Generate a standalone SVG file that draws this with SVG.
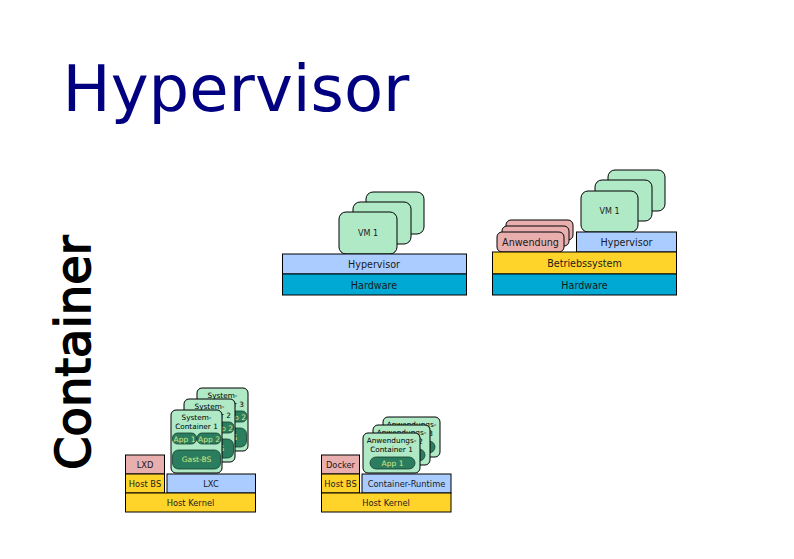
<svg xmlns="http://www.w3.org/2000/svg" width="794" height="559" viewBox="0 0 794 559">
<style>
text{font-family:"DejaVu Sans","Liberation Sans",sans-serif;text-anchor:middle;fill:#1a1a1a}
.b{stroke:#000;stroke-width:1}
.hw{fill:#00a8d4}
.hv{fill:#aaccff}
.os{fill:#ffd42a}
.pk{fill:#e9afaf}
.vm{fill:#afe9c6}
.app{fill:#2b7d60;stroke:#15402f;stroke-width:0.8}
.apt{fill:#dbe87f;font-size:7.5px}
.l{font-size:9.6px}
.s{font-size:8.3px}
.c{font-size:7.3px;fill:#000}
</style>
<rect width="794" height="559" fill="#fff"/>
<text x="236" y="111" style="font-size:64px;fill:#000080">Hypervisor</text>
<text transform="translate(90,470) rotate(-90)" x="0" y="0" style="font-size:48px;fill:#000;stroke:#000;stroke-width:1.6;text-anchor:start">Container</text>

<g id="hyp1">
<rect class="b vm" x="366" y="192" width="58" height="42" rx="7"/>
<rect class="b vm" x="353" y="202" width="58" height="42" rx="7"/>
<rect class="b vm" x="339" y="212" width="58" height="42" rx="7"/>
<text x="368" y="236" style="font-size:8px">VM 1</text>
<rect class="b hv" x="282.5" y="254" width="184" height="20"/>
<text class="l" x="374" y="268">Hypervisor</text>
<rect class="b hw" x="282.5" y="274" width="184" height="21"/>
<text class="l" x="374" y="288.5">Hardware</text>
</g>

<g id="hyp2">
<rect class="b vm" x="608" y="170" width="57" height="41" rx="7"/>
<rect class="b vm" x="595" y="180" width="57" height="41" rx="7"/>
<rect class="b vm" x="581" y="191" width="57" height="41" rx="7"/>
<text x="609.5" y="214" style="font-size:8px">VM 1</text>
<rect class="b pk" x="506" y="220" width="67" height="20" rx="5"/>
<rect class="b pk" x="502" y="226" width="67" height="20" rx="5"/>
<rect class="b pk" x="497" y="232" width="67" height="20" rx="5"/>
<text class="l" x="530.5" y="245.5">Anwendung</text>
<rect class="b hv" x="576.5" y="232" width="100" height="20"/>
<text class="l" x="626.5" y="246">Hypervisor</text>
<rect class="b os" x="492.5" y="252" width="184" height="22"/>
<text class="l" x="584.5" y="267">Betriebssystem</text>
<rect class="b hw" x="492.5" y="274" width="184" height="21"/>
<text class="l" x="584.5" y="288.5">Hardware</text>
</g>

<g id="lxc">
<g id="sc3">
<rect class="b vm" x="197" y="388" width="51" height="63" rx="5"/>
<text class="c" x="222.5" y="398">System-</text>
<text class="c" x="222.5" y="407">Container 3</text>
<rect class="app" x="198.5" y="411" width="24" height="11" rx="5"/>
<text class="apt" x="210.5" y="419.5">App 1</text>
<rect class="app" x="223" y="411" width="24" height="11" rx="5"/>
<text class="apt" x="235" y="419.5">App 2</text>
<rect class="app" x="198.5" y="428" width="48" height="19" rx="6"/>
<text class="apt" x="222.5" y="440">Gast-BS</text>
</g>
<g id="sc2">
<rect class="b vm" x="184" y="399" width="51" height="63" rx="5"/>
<text class="c" x="209.5" y="409">System-</text>
<text class="c" x="209.5" y="418">Container 2</text>
<rect class="app" x="185.5" y="422" width="24" height="11" rx="5"/>
<text class="apt" x="197.5" y="430.5">App 1</text>
<rect class="app" x="210" y="422" width="24" height="11" rx="5"/>
<text class="apt" x="222" y="430.5">App 2</text>
<rect class="app" x="185.5" y="439" width="48" height="19" rx="6"/>
<text class="apt" x="209.5" y="451">Gast-BS</text>
</g>
<g id="sc1">
<rect class="b vm" x="171" y="410" width="51" height="63" rx="5"/>
<text class="c" x="196.5" y="420">System-</text>
<text class="c" x="196.5" y="429">Container 1</text>
<rect class="app" x="172.5" y="433" width="24" height="11" rx="5"/>
<text class="apt" x="184.5" y="441.5">App 1</text>
<rect class="app" x="197" y="433" width="24" height="11" rx="5"/>
<text class="apt" x="209" y="441.5">App 2</text>
<rect class="app" x="172.5" y="450" width="48" height="19" rx="6"/>
<text class="apt" x="196.5" y="462">Gast-BS</text>
</g>
<rect class="b pk" x="125.5" y="455" width="39" height="19"/>
<text class="s" x="145" y="468">LXD</text>
<rect class="b os" x="125.5" y="474" width="39" height="19"/>
<text class="s" x="145" y="487">Host BS</text>
<rect class="b hv" x="167" y="474" width="88.5" height="19"/>
<text class="s" x="211" y="487">LXC</text>
<rect class="b os" x="125.5" y="493" width="130" height="19"/>
<text class="s" x="190.5" y="506">Host Kernel</text>
</g>

<g id="docker">
<g id="ac3">
<rect class="b vm" x="383" y="417" width="57" height="40" rx="5"/>
<text class="c" x="411.5" y="427">Anwendungs-</text>
<text class="c" x="411.5" y="436">Container 3</text>
<rect class="app" x="390" y="441" width="45" height="12" rx="6"/>
<text class="apt" x="412.5" y="450">App 1</text>
</g>
<g id="ac2">
<rect class="b vm" x="373" y="425" width="57" height="40" rx="5"/>
<text class="c" x="401.5" y="435">Anwendungs-</text>
<text class="c" x="401.5" y="444">Container 2</text>
<rect class="app" x="380" y="449" width="45" height="12" rx="6"/>
<text class="apt" x="402.5" y="458">App 1</text>
</g>
<g id="ac1">
<rect class="b vm" x="363" y="433" width="57" height="40" rx="5"/>
<text class="c" x="391.5" y="443">Anwendungs-</text>
<text class="c" x="391.5" y="452">Container 1</text>
<rect class="app" x="370" y="457" width="45" height="12" rx="6"/>
<text class="apt" x="392.5" y="466">App 1</text>
</g>
<rect class="b pk" x="321.5" y="455" width="38" height="19"/>
<text class="s" x="340.5" y="468">Docker</text>
<rect class="b os" x="321.5" y="474" width="38" height="19"/>
<text class="s" x="340.5" y="487">Host BS</text>
<rect class="b hv" x="362" y="474" width="89" height="19"/>
<text class="s" x="406.5" y="487">Container-Runtime</text>
<rect class="b os" x="321.5" y="493" width="129.5" height="19"/>
<text class="s" x="386" y="506">Host Kernel</text>
</g>
<g id="connectors"/>
</svg>
